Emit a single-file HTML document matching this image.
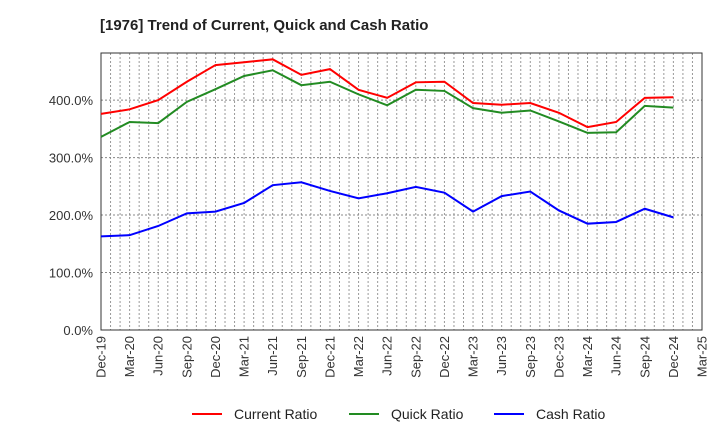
<!DOCTYPE html>
<html><head><meta charset="utf-8"><style>
body{margin:0;background:#fff;font-family:"Liberation Sans",Arial,sans-serif}
</style></head><body>
<svg id="c" width="720" height="440" xmlns="http://www.w3.org/2000/svg">
<text x="100" y="30" font-size="15" font-weight="bold" fill="#222">[1976]  Trend of Current, Quick and Cash Ratio</text>
<g id="grid"></g><g id="axes"></g><g id="series"></g>
<g>
<g><line x1="192" y1="414" x2="222" y2="414" stroke="#f00" stroke-width="2"/><text x="234" y="419" font-size="14" fill="#222">Current Ratio</text></g>
<g><line x1="349" y1="414" x2="379" y2="414" stroke="#228b22" stroke-width="2"/><text x="391" y="419" font-size="14" fill="#222">Quick Ratio</text></g>
<g><line x1="494" y1="414" x2="524" y2="414" stroke="#00f" stroke-width="2"/><text x="536" y="419" font-size="14" fill="#222">Cash Ratio</text></g>
</g>
</svg>
<script>
const xLabels=["Dec-19","Mar-20","Jun-20","Sep-20","Dec-20","Mar-21","Jun-21","Sep-21","Dec-21","Mar-22","Jun-22","Sep-22","Dec-22","Mar-23","Jun-23","Sep-23","Dec-23","Mar-24","Jun-24","Sep-24","Dec-24","Mar-25"];
const yTicks=[0,100,200,300,400];
const currentRatio=[376,384,400,432,461,466,471,444,454,418,404,431,432,395,392,395,378,353,362,404,405];
const quickRatio=[336,362,360,397,419,442,452,426,432,410,391,418,416,386,378,382,363,343,344,390,387];
const cashRatio=[163,165,181,203,206,221,252,257,242,229,238,249,239,206,233,241,208,185,188,211,196];
const L=101,R=702,T=53,B=330,YMAX=482,NM=63;
const ns="http://www.w3.org/2000/svg";
const xm=m=>L+(R-L)*m/NM, xq=i=>xm(i*3), y=v=>B-(B-T)*v/YMAX;
function mk(tag,attrs,parent){const e=document.createElementNS(ns,tag);for(const k in attrs)e.setAttribute(k,attrs[k]);parent.appendChild(e);return e;}
const grid=document.getElementById('grid'),axes=document.getElementById('axes'),ser=document.getElementById('series');
for(let m=1;m<NM;m++){const g=mk('line',{x1:xm(m),x2:xm(m),y1:T,y2:B,stroke:'#999','stroke-width':1,'stroke-dasharray':'2,2'},grid);

}
yTicks.forEach(v=>{if(v>0){const g=mk('line',{x1:L,x2:R,y1:y(v),y2:y(v),stroke:'#888','stroke-width':1,'stroke-dasharray':'2,2'},grid);

}
const t=mk('text',{x:L-8,y:y(v)+5,'text-anchor':'end','font-size':13,fill:'#333'},axes);t.textContent=v.toFixed(1)+'%';

});
const fr=mk('rect',{x:L,y:T,width:R-L,height:B-T,fill:'none',stroke:'#333','stroke-width':1},axes);


xLabels.forEach((s,i)=>{const x=xq(i);const t=mk('text',{x:0,y:0,transform:`translate(${x+4.5},${B+6}) rotate(-90)`,'text-anchor':'end','font-size':13,fill:'#333'},axes);t.textContent=s;

});
[[currentRatio,'#f00','current-ratio-line'],[quickRatio,'#228b22','quick-ratio-line'],[cashRatio,'#00f','cash-ratio-line']].forEach(([d,c,n])=>{
const p=mk('polyline',{points:d.map((v,i)=>xq(i)+','+y(v)).join(' '),fill:'none',stroke:c,'stroke-width':2},ser);

});
</script>
</body></html>
